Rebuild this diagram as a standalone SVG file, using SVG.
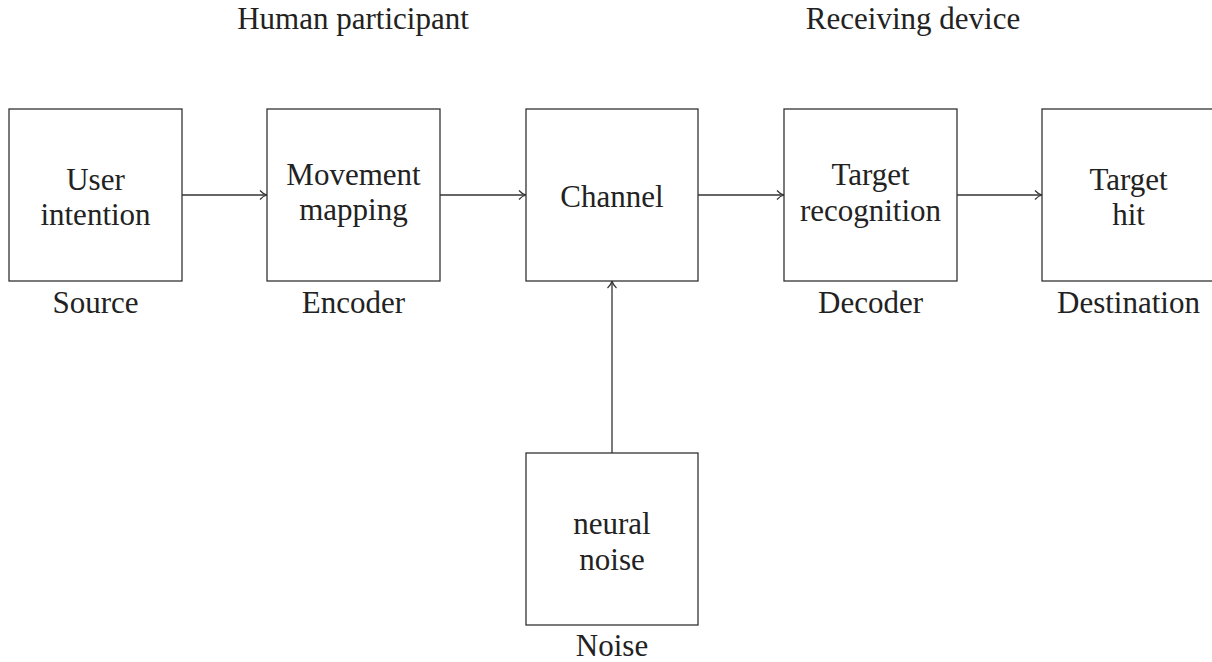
<svg xmlns="http://www.w3.org/2000/svg" width="1212" height="662" viewBox="0 0 1212 662">
<style>
text{font-family:"Liberation Serif","DejaVu Serif",serif;font-size:31px;fill:#222;text-anchor:middle}
rect{fill:#fff;stroke:#333;stroke-width:1.3}
.c{stroke:#333;stroke-width:1.3;fill:none}
</style>
<defs>
<marker id="a" markerUnits="userSpaceOnUse" markerWidth="14" markerHeight="14" refX="10" refY="7" orient="auto" viewBox="0 0 14 14">
<path d="M3,2.5 Q6,6 10,7 Q6,8 3,11.5" fill="none" stroke="#333" stroke-width="1.2"/>
</marker>
</defs>
<text x="353" y="29">Human participant</text>
<text x="913" y="29">Receiving device</text>
<g id="connectors">
<line class="c" x1="182" y1="195" x2="267" y2="195" marker-end="url(#a)"/>
<line class="c" x1="440" y1="195" x2="526" y2="195" marker-end="url(#a)"/>
<line class="c" x1="698" y1="195" x2="784" y2="195" marker-end="url(#a)"/>
<line class="c" x1="957" y1="195" x2="1042" y2="195" marker-end="url(#a)"/>
<line class="c" x1="612" y1="453" x2="612" y2="281" marker-end="url(#a)"/>
</g>
<g id="source">
<rect x="9" y="109" width="173" height="172"/>
<text x="95.5" y="190">User</text>
<text x="95.5" y="225">intention</text>
<text x="95.5" y="313">Source</text>
</g>
<g id="encoder">
<rect x="267" y="109" width="173" height="172"/>
<text x="353.5" y="185">Movement</text>
<text x="353.5" y="220">mapping</text>
<text x="353.5" y="313">Encoder</text>
</g>
<g id="channel">
<rect x="526" y="109" width="172" height="172"/>
<text x="612" y="207">Channel</text>
</g>
<g id="decoder">
<rect x="784" y="109" width="173" height="172"/>
<text x="870.5" y="185">Target</text>
<text x="870.5" y="221">recognition</text>
<text x="870.5" y="313">Decoder</text>
</g>
<g id="destination">
<rect x="1042" y="109" width="173" height="172"/>
<text x="1128.5" y="190">Target</text>
<text x="1128.5" y="225">hit</text>
<text x="1128.5" y="313">Destination</text>
</g>
<g id="noise">
<rect x="526" y="453" width="172" height="172"/>
<text x="612" y="534">neural</text>
<text x="612" y="570">noise</text>
<text x="612" y="656">Noise</text>
</g>
</svg>
